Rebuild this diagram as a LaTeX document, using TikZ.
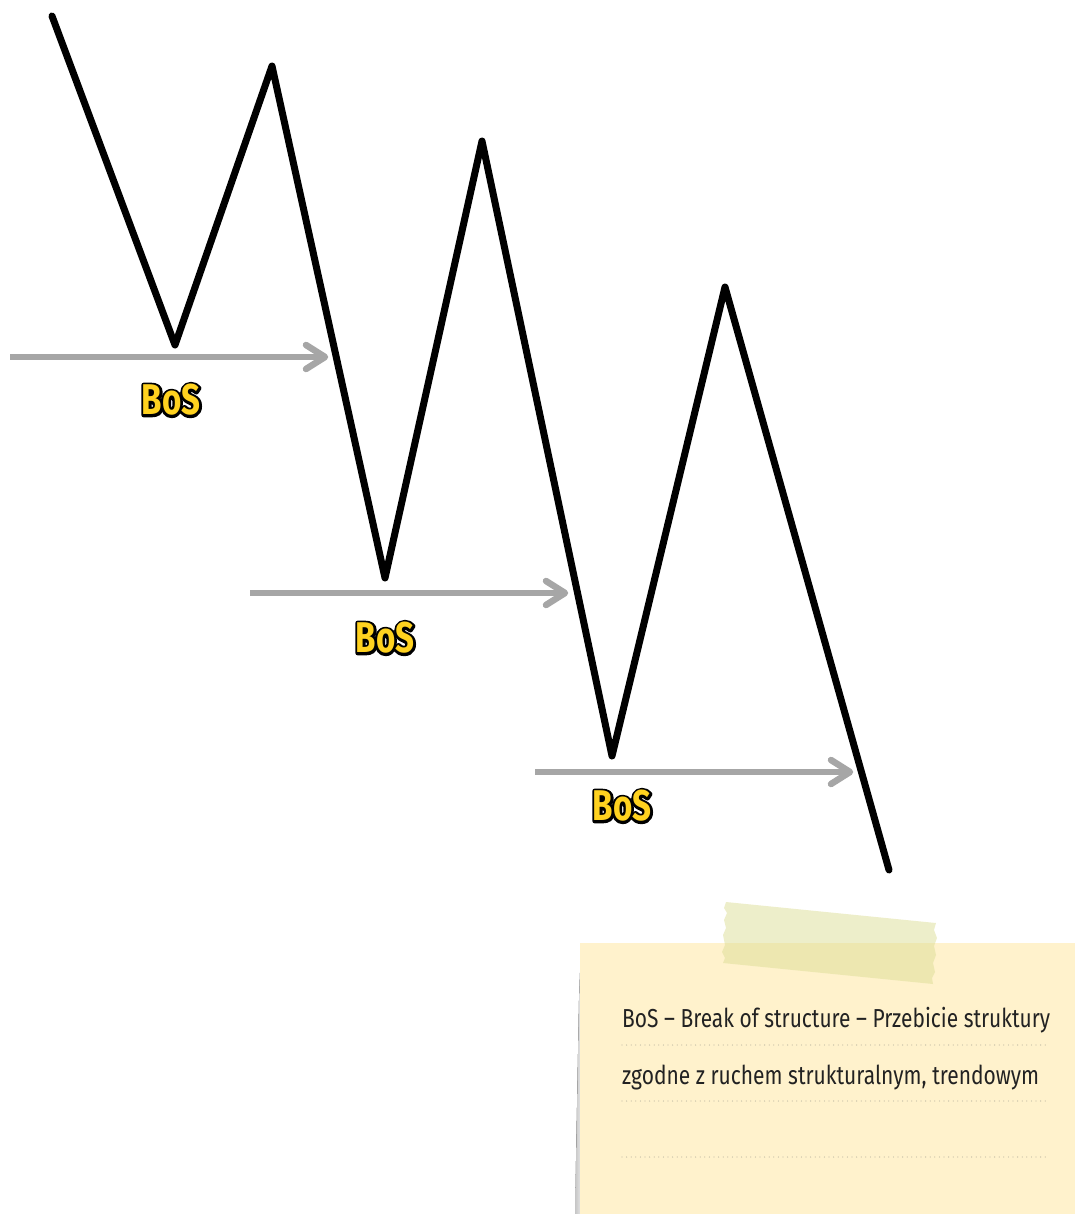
\documentclass[tikz,border=0pt]{standalone}
\usepackage{fontspec}
\setmainfont{Fira Sans}
\newfontfamily\bosface[FakeStretch=0.77]{Fira Sans Bold}
\newfontfamily\noteface{Fira Sans}
\usepackage{graphicx}
\definecolor{arrowgray}{HTML}{A6A6A6}
\definecolor{bosyellow}{HTML}{FFD21F}
\definecolor{notepaper}{HTML}{FFF2CC}
\definecolor{tapecol}{RGB}{220,222,150}
\definecolor{dotcol}{HTML}{C4BEA6}
\definecolor{notetext}{HTML}{222222}
\newcommand\bostxt{{\bosface\fontsize{43}{43}\selectfont
  \rlap{\color{black}\special{pdf:literal direct 1 Tr 5 w 1 J 1 j}BoS\special{pdf:literal direct 0 Tr}}%
  \color{bosyellow}BoS}}
\tikzset{
  pricepath/.style={line width=7pt, line cap=round, line join=round, black},
  bosshaft/.style={line width=6.5pt, arrowgray, line cap=butt},
  boshead/.style={line width=6.5pt, arrowgray, line cap=round, line join=round},
  boslab/.style={inner sep=0pt, outer sep=0pt},
  notedots/.style={dotcol, line width=1.3pt, line cap=round, dash pattern=on 0pt off 4.6pt},
  noteline/.style={anchor=base west, inner sep=0pt, text=notetext},
}
\begin{document}
\begin{tikzpicture}[x=1pt,y=-1pt]
\useasboundingbox (0,0) rectangle (1075,1214);
% price zigzag
\coordinate (p1) at (52,16);
\coordinate (p2) at (175,345);
\coordinate (p3) at (272,66);
\coordinate (p4) at (385,578);
\coordinate (p5) at (482,141);
\coordinate (p6) at (612,756);
\coordinate (p7) at (725,287);
\coordinate (p8) at (889,870);
% BoS arrows
\coordinate (a1s) at (10,357);  \coordinate (a1e) at (325,357);
\coordinate (a2s) at (250,593); \coordinate (a2e) at (565,593);
\coordinate (a3s) at (535,772); \coordinate (a3e) at (850,772);
\foreach \s/\e in {a1s/a1e,a2s/a2e,a3s/a3e}{
  \draw[bosshaft] (\s) -- ([xshift=-3pt]\e);
  \draw[boshead] ([shift={(-19,-12)}]\e) -- (\e) -- ([shift={(-19,12)}]\e);
}
\draw[pricepath] (p1) -- (p2) -- (p3) -- (p4) -- (p5) -- (p6) -- (p7) -- (p8);
% BoS labels
\node[boslab] (b1) at (171,400) {\bostxt};
\node[boslab] (b2) at (385,638) {\bostxt};
\node[boslab] (b3) at (622,806) {\bostxt};
% sticky note
\fill[left color=gray!45, right color=gray!20] (581,945) -- (579,1000) -- (575,1214) -- (581,1214) -- cycle;
\fill[notepaper] (580,943) rectangle (1075,1214);
\fill[tapecol, opacity=0.5] (726,902) -- (936,923) -- (934,930) -- (937,938) -- (934,946) -- (936,955) -- (933,963) -- (935,972) -- (932,978) -- (933,984)
  -- (723,963) -- (725,958) -- (722,952) -- (725,945) -- (723,935) -- (726,928) -- (724,920) -- (727,913) -- (724,908) -- cycle;
\node[noteline] (t1) at (622,1027) {\resizebox{428pt}{\height}{\noteface\fontsize{26}{30}\selectfont BoS – Break of structure – Przebicie struktury}};
\node[noteline] (t2) at (622,1084) {\resizebox{417pt}{\height}{\noteface\fontsize{26}{30}\selectfont zgodne z ruchem strukturalnym, trendowym}};
\coordinate (d1s) at (622,1045); \coordinate (d1e) at (1048,1045);
\coordinate (d2s) at (622,1101); \coordinate (d2e) at (1048,1101);
\coordinate (d3s) at (622,1157); \coordinate (d3e) at (1048,1157);
\foreach \s/\e in {d1s/d1e,d2s/d2e,d3s/d3e}{\draw[notedots] (\s) -- (\e);}
\end{tikzpicture}
\end{document}
